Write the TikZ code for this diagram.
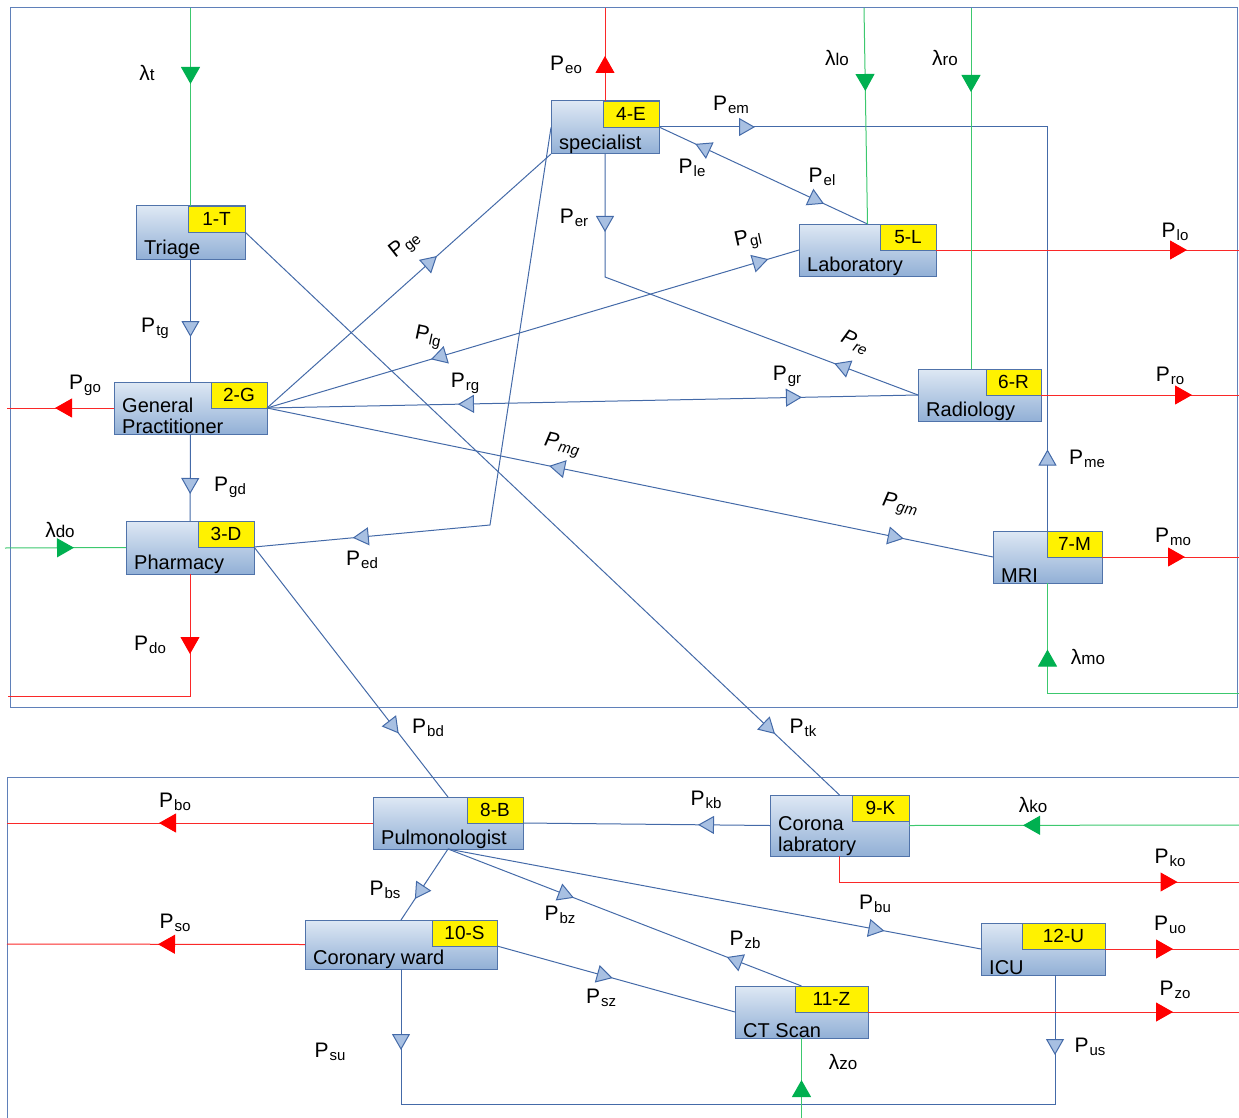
\documentclass[tikz,border=0pt]{standalone}
\usepackage{fontspec}
\setmainfont{Liberation Sans}
\usetikzlibrary{positioning,
        arrows.meta,
        decorations.markings,
        calc}
\usepackage{xcolor}

\definecolor{linkblue}{RGB}{68,106,168}
\definecolor{tipblue}{RGB}{168,192,226}
\definecolor{boxtop}{RGB}{222,232,244}
\definecolor{boxbot}{RGB}{146,176,214}
\definecolor{boxline}{RGB}{80,115,170}
\definecolor{frameblue}{RGB}{95,128,185}
\definecolor{outred}{RGB}{250,40,40}
\definecolor{ingreen}{RGB}{60,200,110}
\definecolor{tipgreen}{RGB}{0,176,80}

% probability and arrival rate labels
\newcommand{\pp}[1]{P\kern1pt\raisebox{-3pt}{\fontsize{15}{15}\selectfont #1}}
\newcommand{\lm}[1]{λ{\fontsize{17}{17}\selectfont #1}}
% one ward: name, x, y, width, height, tag, tag width, text
\newcommand{\ward}[8]{%
  \node [unit,minimum width=#4pt,minimum height=#5pt] (#1) at (#2,#3) {};
  \node [tagbox,minimum width=#7pt,anchor=north east] (#1tag) at (#1.north east) {#6};
  \node [unittext,anchor=south west] (#1txt) at ([shift={(7pt,-1pt)}]#1.south west) {#8};}

\begin{document}
\begin{tikzpicture}[x=1pt,y=-1pt,
    unit/.style={draw=boxline,line width=1pt,top color=boxtop,bottom color=boxbot,inner sep=0pt,outer sep=0pt},
    tagbox/.style={draw=boxline,line width=0.8pt,fill=yellow,minimum height=26pt,inner sep=0pt,outer sep=0pt,font=\fontsize{19}{19}\selectfont},
    unittext/.style={align=left,inner sep=1pt,font=\fontsize{20}{21}\selectfont},
    link/.style={draw=linkblue,line width=1pt},
    outlink/.style={draw=outred,line width=1pt},
    inlink/.style={draw=ingreen,line width=1pt},
    boxframe/.style={draw=frameblue,line width=1pt},
    plabel/.style={inner sep=0pt,font=\fontsize{21}{21}\selectfont},
    bfwd/.style={postaction={decorate,decoration={markings,mark=at position #1 with {\arrow{Triangle[length=16pt,width=18pt,fill=tipblue]}}}}},
    bbwd/.style={postaction={decorate,decoration={markings,mark=at position #1 with {\arrowreversed{Triangle[length=16pt,width=18pt,fill=tipblue]}}}}},
    rfwd/.style={postaction={decorate,decoration={markings,mark=at position #1 with {\arrow{Triangle[length=17pt,width=19pt,color=red]}}}}},
    gfwd/.style={postaction={decorate,decoration={markings,mark=at position #1 with {\arrow{Triangle[length=17pt,width=19pt,color=tipgreen]}}}}}]
    \useasboundingbox (0,0) rectangle (1239,1118);

    % frames
    \draw [boxframe] (10,8) rectangle (1237,707);
    \draw [boxframe] (7,1118) -- (7,777) -- (1239,777);

    % wards
    \ward{T}{190.5}{232.5}{109}{53}{1-T}{57}{Triage}
    \ward{E}{605}{127.5}{108}{53}{4-E}{56}{specialist}
    \ward{L}{867.5}{250}{137}{52}{5-L}{56}{Laboratory}
    \ward{G}{190.5}{408}{153}{52}{2-G}{56}{General\\Practitioner}
    \ward{R}{979.5}{395}{123}{52}{6-R}{55}{Radiology}
    \ward{D}{190}{547.5}{128}{53}{3-D}{56}{Pharmacy}
    \ward{M}{1047.5}{557}{109}{52}{7-M}{55}{MRI}
    \ward{B}{448}{823}{150}{52}{8-B}{56}{Pulmonologist}
    \ward{K}{839.5}{825.5}{139}{61}{9-K}{57}{Corona\\labratory}
    \ward{S}{401}{944.5}{192}{49}{10-S}{65}{Coronary ward}
    \ward{Z}{801.5}{1012}{133}{52}{11-Z}{73}{CT Scan}
    \ward{U}{1043}{949}{124}{52}{12-U}{83}{ICU}

    % bends and free ends
    \coordinate (edbend) at (490,525);
    \coordinate (erbend) at (605,277);
    \coordinate (sucorner) at (401,1104);
    \coordinate (uscorner) at (1055,1104);
    \coordinate (eoend) at (605,8);
    \coordinate (loend) at (1239,250);
    \coordinate (roend) at (1239,395);
    \coordinate (goend) at (7,408);
    \coordinate (dobend) at (190,696);
    \coordinate (doend) at (8,696);
    \coordinate (moend) at (1239,557);
    \coordinate (boend) at (7,823);
    \coordinate (koend) at (1239,882);
    \coordinate (soend) at (7,944);
    \coordinate (uoend) at (1239,949);
    \coordinate (zoend) at (1239,1012);
    \coordinate (tin) at (190.5,8);
    \coordinate (loin) at (864,8);
    \coordinate (roin) at (971,8);
    \coordinate (doin) at (5,548);
    \coordinate (moin) at (1239,693);
    \coordinate (koin) at (1239,825);
    \coordinate (zoin) at (801.5,1118);

    % flows between wards
    \draw [link,bfwd=78pt] (T.south) -- (G.north);
    \draw [link,bfwd=730pt] (Ttag.south east) -- (K.north);
    \draw [link,bfwd=228pt] (Gtag.south east) -- (E.south west);
    \draw [link,bfwd=540pt] (E.west) -- (edbend) -- (Dtag.south east);
    \draw [link,bfwd=78pt,bbwd=368pt] (E.south) -- (erbend) -- (R.west);
    \draw [link,bfwd=523pt,bbwd=171pt] (Gtag.south east) -- (L.west);
    \draw [link,bfwd=535pt,bbwd=191pt] (Gtag.south east) -- (R.west);
    \draw [link,bfwd=650pt,bbwd=288pt] (Gtag.south east) -- (M.west);
    \draw [link,bfwd=60pt] (G.south) -- (D.north);
    \draw [link,bfwd=236pt] (Dtag.south east) -- (B.north);
    \draw [link,bfwd=182pt,bbwd=40pt] (Etag.south east) -- (L.north);
    \draw [link,bfwd=96pt,bbwd=711pt] (Etag.south east) -| (M.north);
    \draw [link,bfwd=72pt] (K.west) -- (Btag.south east);
    \draw [link,bfwd=60pt] (B.south) -- (S.north);
    \draw [link,bfwd=135pt,bbwd=299pt] (B.south) -- (Z.north);
    \draw [link,bfwd=444pt] (B.south) -- (U.west);
    \draw [link,bfwd=120pt] (Stag.south east) -- (Z.west);
    \draw [link,bfwd=81pt,bbwd=838pt] (S.south) -- (sucorner) -- (uscorner) -- (uscorner |- U.south);

    % outflows
    \draw [outlink,rfwd=45pt] (E.north) -- (eoend);
    \draw [outlink,rfwd=251pt] (Ltag.south east) -- (loend);
    \draw [outlink,rfwd=151pt] (Rtag.south east) -- (roend);
    \draw [outlink,rfwd=59pt] (G.west) -- (goend);
    \draw [outlink,rfwd=80pt] (D.south) -- (dobend) -- (doend);
    \draw [outlink,rfwd=83pt] (Mtag.south east) -- (moend);
    \draw [outlink,rfwd=214pt] (B.west) -- (boend);
    \draw [outlink,rfwd=364pt] (K.south) |- (koend);
    \draw [outlink,rfwd=147pt] (S.west) -- (soend);
    \draw [outlink,rfwd=68pt] (Utag.south east) -- (uoend);
    \draw [outlink,rfwd=305pt] (Ztag.south east) -- (zoend);

    % arrivals
    \draw [inlink,gfwd=76pt] (tin) -- (T.north);
    \draw [inlink,gfwd=83pt] (loin) -- (L.north);
    \draw [inlink,gfwd=84pt] (roin) -- (roin |- R.north);
    \draw [inlink,gfwd=69pt] (doin) -- (D.west);
    \draw [inlink,gfwd=235pt] (moin) -| (M.south);
    \draw [inlink,gfwd=216pt] (koin) -- (K.east);
    \draw [inlink,gfwd=38pt] (zoin) -- (Z.south);

    % labels
    \node [plabel] (ltg) at (155,328) {\pp{tg}};
    \node [plabel] (ltk) at (803,728) {\pp{tk}};
    \node [plabel,rotate=38] (lge) at (405,245) {\pp{ge}};
    \node [plabel] (led) at (362,560) {\pp{ed}};
    \node [plabel] (ler) at (574,218) {\pp{er}};
    \node [plabel,rotate=-25,font=\fontsize{21}{21}\selectfont\itshape] (lre) at (855,342) {\pp{re}};
    \node [plabel,rotate=12] (lgl) at (748,240) {\pp{gl}};
    \node [plabel,rotate=-12] (llg) at (428,337) {\pp{lg}};
    \node [plabel] (lrg) at (465,383) {\pp{rg}};
    \node [plabel] (lgr) at (787,376) {\pp{gr}};
    \node [plabel,rotate=-12,font=\fontsize{21}{21}\selectfont\itshape] (lmg) at (562,445) {\pp{mg}};
    \node [plabel,rotate=-12,font=\fontsize{21}{21}\selectfont\itshape] (lgm) at (900,505) {\pp{gm}};
    \node [plabel] (lgd) at (230,487) {\pp{gd}};
    \node [plabel] (lbd) at (428,728) {\pp{bd}};
    \node [plabel] (lle) at (692,168) {\pp{le}};
    \node [plabel] (lel) at (822,177) {\pp{el}};
    \node [plabel] (lem) at (731,105) {\pp{em}};
    \node [plabel] (lme) at (1087,459) {\pp{me}};
    \node [plabel] (lkb) at (706,800) {\pp{kb}};
    \node [plabel] (lbs) at (385,890) {\pp{bs}};
    \node [plabel] (lbz) at (560,915) {\pp{bz}};
    \node [plabel] (lzb) at (745,940) {\pp{zb}};
    \node [plabel] (lbu) at (875,904) {\pp{bu}};
    \node [plabel] (lsz) at (601,998) {\pp{sz}};
    \node [plabel] (lsu) at (330,1052) {\pp{su}};
    \node [plabel] (lus) at (1090,1047) {\pp{us}};
    \node [plabel] (leo) at (566,65) {\pp{eo}};
    \node [plabel] (llo) at (1175,232) {\pp{lo}};
    \node [plabel] (lro) at (1170,376) {\pp{ro}};
    \node [plabel] (lgo) at (85,385) {\pp{go}};
    \node [plabel] (ldo) at (150,645) {\pp{do}};
    \node [plabel] (lmo) at (1173,537) {\pp{mo}};
    \node [plabel] (lbo) at (175,802) {\pp{bo}};
    \node [plabel] (lko) at (1170,858) {\pp{ko}};
    \node [plabel] (lso) at (175,923) {\pp{so}};
    \node [plabel] (luo) at (1170,925) {\pp{uo}};
    \node [plabel] (lzo) at (1175,990) {\pp{zo}};
    \node [plabel] (lmt) at (147,73) {\lm{t}};
    \node [plabel] (lmlo) at (837,58) {\lm{lo}};
    \node [plabel] (lmro) at (945,58) {\lm{ro}};
    \node [plabel] (lmdo) at (60,530) {\lm{do}};
    \node [plabel] (lmmo) at (1088,657) {\lm{mo}};
    \node [plabel] (lmko) at (1033,805) {\lm{ko}};
    \node [plabel] (lmzo) at (843,1062) {\lm{zo}};
\end{tikzpicture}
\end{document}
